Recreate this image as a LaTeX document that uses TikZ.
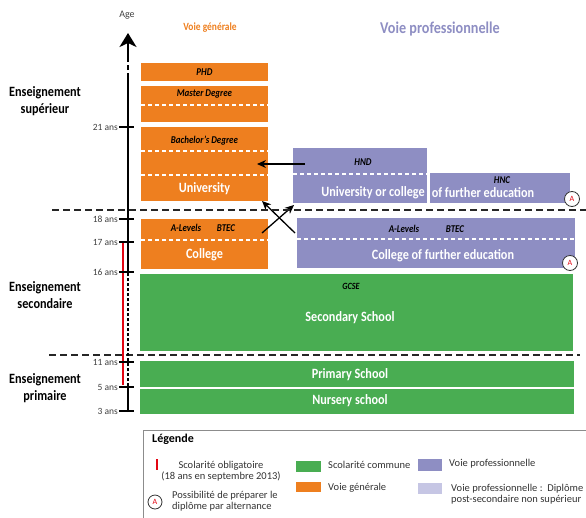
\documentclass[tikz,border=0pt]{standalone}
\usepackage{fontspec}
\setmainfont{Carlito}
\newfontfamily\condfont{Carlito}[FakeStretch=0.86]
\usetikzlibrary{positioning,arrows.meta}

\definecolor{orangeV}{HTML}{EE7F1F}
\definecolor{purpleV}{HTML}{8E8EC3}
\definecolor{lightV}{HTML}{C6C6E4}
\definecolor{greenV}{HTML}{49AD52}
\definecolor{redV}{HTML}{E30613}

\tikzset{
  blk/.style={inner sep=0pt, outer sep=0pt, anchor=north west},
  gen/.style={blk, fill=orangeV},
  pro/.style={blk, fill=purpleV},
  com/.style={blk, fill=greenV},
  big/.style={text=white, font=\condfont\bfseries\fontsize{14.2}{15}\selectfont},
  sml/.style={font=\condfont\bfseries\itshape\fontsize{10.4}{11}\selectfont},
  sep/.style={white, line width=1.5pt, dash pattern=on 4pt off 3pt},
  cut/.style={black!85, line width=2pt, dash pattern=on 7pt off 4pt},
  tick/.style={line width=2pt},
  tlab/.style={font=\fontsize{9.5}{10}\selectfont, text=black!75, inner sep=1pt},
  level/.style={font=\condfont\bfseries\fontsize{14.2}{17}\selectfont, align=center},
  arr/.style={-{Stealth[length=9pt,width=8pt]}, line width=1.3pt},
  alt/.style={circle, draw=black!80, line width=0.8pt, fill=white, inner sep=0pt,
    minimum size=15pt, text=redV, font=\fontsize{8}{8}\selectfont},
  leg/.style={font=\fontsize{10.5}{11}\selectfont, text=black!80, inner sep=0pt},
}

\begin{document}
\begin{tikzpicture}[x=1pt, y=-1pt]
  \useasboundingbox (0,0) rectangle (586,517);

  % titles
  \node[text=orangeV, font=\condfont\bfseries\fontsize{11}{11}\selectfont] (tgen) at (210,28) {Voie générale};
  \node[text=purpleV, font=\condfont\bfseries\fontsize{16.5}{17}\selectfont] (tpro) at (440,29) {Voie professionnelle};

  % voie generale
  \node[gen, minimum width=127pt, minimum height=18pt] (phd) at (141,63) {};
  \node[gen, minimum width=127pt, minimum height=36pt] (master) at (141,86) {};
  \node[gen, minimum width=127pt, minimum height=74pt] (univ) at (141,127) {};
  \node[gen, minimum width=127pt, minimum height=50pt] (college) at (141,219) {};
  \draw[sep] (141,105) -- (268,105);
  \draw[sep] (141,151) -- (268,151);
  \draw[sep] (141,175) -- (268,175);
  \draw[sep] (141,240) -- (268,240);
  \node[sml] (phdtxt) at (204.5,72) {PHD};
  \node[sml] (mastertxt) at (204.5,94) {Master Degree};
  \node[sml] (bachtxt) at (204.5,141) {Bachelor’s Degree};
  \node[big] (univtxt) at (204.5,189) {University};
  \node[sml] (alevA) at (186,228) {A-Levels};
  \node[sml] (btecA) at (226,228) {BTEC};
  \node[big] (collegetxt) at (204.5,255) {College};

  % voie professionnelle
  \node[pro, minimum width=134pt, minimum height=55pt] (hnd) at (293,148) {};
  \node[pro, minimum width=140pt, minimum height=30pt] (hnc) at (430,173) {};
  \node[pro, minimum width=278pt, minimum height=50pt] (cfe) at (297,218) {};
  \draw[sep] (293,174) -- (427,174);
  \draw[sep] (297,239) -- (575,239);
  \node[sml] (hndtxt) at (363,162) {HND};
  \node[big] (uoctxt) at (373,193) {University or college};
  \node[sml] (hnctxt) at (502,180) {HNC};
  \node[big] (ofetxt) at (483,193) {of further education};
  \node[sml] (alevB) at (404,229) {A-Levels};
  \node[sml] (btecB) at (455,229) {BTEC};
  \node[big] (cfetxt) at (443,256) {College of further education};
  \node[alt] (altA) at (572,199) {A};
  \node[alt] (altB) at (570,263) {A};

  % scolarite commune
  \node[com, minimum width=433pt, minimum height=77pt] (sec) at (140,274) {};
  \node[com, minimum width=434pt, minimum height=26pt] (prim) at (140,361) {};
  \node[com, minimum width=434pt, minimum height=25pt] (nurs) at (140,389) {};
  \node[sml, font=\condfont\bfseries\itshape\fontsize{9.5}{10}\selectfont] (gcse) at (351,286) {GCSE};
  \node[big] (sectxt) at (350,318) {Secondary School};
  \node[big] (primtxt) at (350,375) {Primary School};
  \node[big] (nurstxt) at (350,401) {Nursery school};

  % passerelles
  \coordinate (hndL) at (305,164);
  \coordinate (univR) at (257,164);
  \coordinate (collegeR) at (262,233);
  \coordinate (hndB) at (294,205);
  \coordinate (cfeL) at (295,233);
  \coordinate (univB) at (262,201);
  \draw[arr] (hndL) -- (univR);
  \draw[arr] (collegeR) -- (hndB);
  \draw[arr] (cfeL) -- (univB);

  % niveaux
  \draw[cut] (52,210) -- (586,210);
  \draw[cut] (49,355) -- (580,355);
  \node[level] (sup) at (45,101) {Enseignement\\supérieur};
  \node[level] (second) at (45,295) {Enseignement\\secondaire};
  \node[level] (prima) at (45,388) {Enseignement\\primaire};

  % axe des ages
  \draw[redV, line width=2.5pt] (123,243) -- (123,385);
  \draw[line width=2.2pt] (128,412) -- (128,386);
  \draw[line width=2.2pt, dash pattern=on 3pt off 2pt] (128,386) -- (128,272);
  \draw[line width=2.2pt] (128,272) -- (128,78);
  \draw[line width=2.2pt, dash pattern=on 5pt off 3pt] (128,78) -- (128,60);
  \draw[line width=2.2pt, -{Stealth[length=14pt,width=17pt,inset=4pt]}] (128,61) -- (128,33);
  \node[text=black!75, font=\fontsize{10}{10}\selectfont] (age) at (127,15) {Age};
  \foreach \y/\a in {127/21, 219/18, 242/17, 272/16, 362/11, 387/5, 411/3}{
    \draw[tick] (119,\y) -- (134,\y) coordinate (t\a);
    \node[tlab, left=0pt of {(119,\y)}] (l\a) {\a~ans};
  }

  % legende
  \node[blk, draw=black!45, line width=1pt, minimum width=470pt, minimum height=100pt] (legend) at (143,430) {};
  \node[leg, anchor=west, font=\bfseries\fontsize{12}{12}\selectfont, text=black] (legtitle) at (152,439) {Légende};
  \node[fill=redV, minimum width=2.5pt, minimum height=11pt, inner sep=0pt] (kred) at (157,464) {};
  \node[leg, align=center] (kredtxt) at (221,471) {Scolarité obligatoire\\(18 ans en septembre 2013)};
  \node[alt, minimum size=14pt] (kalt) at (155,502) {A};
  \node[leg, align=left, anchor=west] (kalttxt) at (172,501) {Possibilité de préparer le\\diplôme par alternance};
  \node[blk, fill=greenV, minimum width=25pt, minimum height=11pt] (kcom) at (296,461) {};
  \node[leg, anchor=west] (kcomtxt) at (328,465) {Scolarité commune};
  \node[blk, fill=orangeV, minimum width=25pt, minimum height=10pt] (kgen) at (296,482) {};
  \node[leg, anchor=west] (kgentxt) at (328,488) {Voie générale};
  \node[blk, fill=purpleV, minimum width=24pt, minimum height=12pt] (kpro) at (418,459) {};
  \node[leg, anchor=west] (kprotxt) at (449,464) {Voie professionnelle};
  \node[blk, fill=lightV, minimum width=24pt, minimum height=11pt] (klight) at (418,483) {};
  \node[leg, align=left, anchor=west] (klighttxt) at (451,494) {Voie professionnelle :\ \ Diplôme\\post-secondaire non supérieur};
\end{tikzpicture}
\end{document}
